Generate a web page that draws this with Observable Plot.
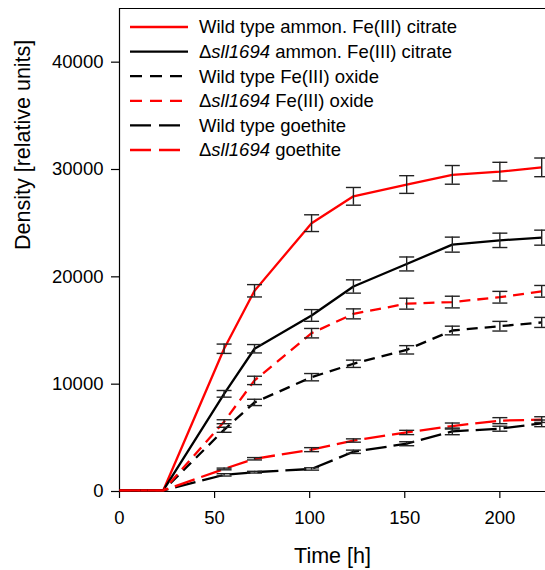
<!DOCTYPE html>
<html>
<head>
<meta charset="utf-8">
<script src="https://cdn.jsdelivr.net/npm/d3@7"></script>
<script src="https://cdn.jsdelivr.net/npm/@observablehq/plot@0.6"></script>
<style>
  body { margin: 0; background: #fff; }
  svg { display: block; }
</style>
</head>
<body>
<div id="chart"></div>
<script>
// ---- data ----
const times = [0, 23, 55, 71, 101, 123, 151, 175, 200, 222];

const seriesNames = [
  "Wild type ammon. Fe(III) citrate",
  "Δsll1694 ammon. Fe(III) citrate",
  "Wild type Fe(III) oxide",
  "Δsll1694 Fe(III) oxide",
  "Wild type goethite",
  "Δsll1694 goethite"
];

const wtCitrate   = [100, 100, 13300, 18700, 25000, 27500, 28600, 29500, 29800, 30200];
const dCitrate    = [100, 100, 9100, 13300, 16400, 19100, 21200, 23000, 23400, 23650];
const wtOxide     = [100, 100, 5750, 8300, 10650, 11900, 13200, 15000, 15400, 15750];
const dOxide      = [100, 100, 6500, 10350, 14750, 16550, 17500, 17650, 18100, 18650];
const wtGoethite  = [100, 100, 1550, 1800, 2100, 3700, 4450, 5600, 5850, 6350];
const dGoethite   = [100, 100, 2100, 3050, 3900, 4750, 5500, 6100, 6600, 6700];

const wtCitrateErr  = [0, 0, 435, 575, 780, 825, 825, 870, 870, 870];
const dCitrateErr   = [0, 0, 310, 390, 545, 620, 650, 700, 670, 700];
const wtOxideErr    = [0, 0, 233, 295, 340, 340, 390, 405, 450, 465];
const dOxideErr     = [0, 0, 185, 390, 440, 465, 510, 545, 545, 545];
const wtGoethiteErr = [0, 0, 110, 80, 110, 155, 186, 310, 233, 310];
const dGoethiteErr  = [0, 0, 80, 110, 186, 155, 200, 280, 280, 265];

const xTicks = [0, 50, 100, 150, 200];
const yTicks = [0, 10000, 20000, 30000, 40000];

// ---- styles ----
const values = [wtCitrate, dCitrate, wtOxide, dOxide, wtGoethite, dGoethite];
const errors = [wtCitrateErr, dCitrateErr, wtOxideErr, dOxideErr, wtGoethiteErr, dGoethiteErr];
const colors = ["#ff0000", "#000000", "#000000", "#ff0000", "#000000", "#ff0000"];
const dashes = ["none", "none", "11,7", "11,7", "21,7", "21,7"];
const legendDashes = ["none", "none", "12,8", "12,8", "21,8", "21,8"];

const table = [];
seriesNames.forEach((name, i) => {
  times.forEach((t, j) => {
    table.push({series: name, idx: i, t, v: values[i][j], e: errors[i][j]});
  });
});
const errTable = table.filter(d => d.e > 0);

const capSymbol = {
  draw(ctx) { ctx.moveTo(-7.5, 0); ctx.lineTo(7.5, 0); }
};

const font = "'Liberation Sans', Arial, sans-serif";

const lineMarks = seriesNames.map((name, i) =>
  Plot.line(table.filter(d => d.idx === i), {
    x: "t", y: "v",
    stroke: colors[i], strokeWidth: 2.3,
    strokeDasharray: dashes[i], strokeLinecap: "butt", strokeLinejoin: "miter"
  })
);

const plot = Plot.plot({
  width: 545,
  height: 570,
  marginLeft: 119,
  marginRight: 0,
  marginTop: 8,
  marginBottom: 79,
  style: {fontFamily: font, fontSize: "18.5px", color: "#000", background: "#fff", overflow: "visible"},
  x: {domain: [0, 224], range: [119, 545]},
  y: {domain: [0, 45000]},
  marks: [
    Plot.axisX({ticks: xTicks, tickSize: 7, tickPadding: 12, fontSize: 18.5, label: null, tickFormat: d3.format("d"), strokeWidth: 1.2}),
    Plot.axisY({ticks: yTicks, tickSize: 8, tickPadding: 8, fontSize: 18.5, label: null, tickFormat: d3.format("d"), strokeWidth: 1.2}),
    Plot.ruleY([0], {stroke: "#000", strokeWidth: 1.2}),
    Plot.ruleX([0], {stroke: "#000", strokeWidth: 1.2}),
    Plot.ruleY([45000], {stroke: "#000", strokeWidth: 1.2}),
    ...lineMarks,
    Plot.ruleX(errTable, {x: "t", y1: d => d.v - d.e, y2: d => d.v + d.e, stroke: "#222", strokeWidth: 1.4}),
    Plot.dot(errTable, {x: "t", y: d => d.v + d.e, symbol: capSymbol, r: 5, fill: "none", stroke: "#222", strokeWidth: 1.4}),
    Plot.dot(errTable, {x: "t", y: d => d.v - d.e, symbol: capSymbol, r: 5, fill: "none", stroke: "#222", strokeWidth: 1.4}),
    Plot.text(["Time [h]"], {text: d => d, frameAnchor: "bottom", dy: 71, fontSize: 21.5, fill: "#000"}),
    Plot.text(["Density [relative units]"], {text: d => d, frameAnchor: "left", dx: -96, rotate: -90, fontSize: 21.5, fill: "#000"})
  ]
});

// ---- legend ----
const svg = d3.select(plot);
const lg = svg.append("g")
  .attr("font-family", font)
  .attr("font-size", 18.5)
  .attr("text-anchor", "start");
seriesNames.forEach((name, i) => {
  const y = 27 + i * 24.6;
  lg.append("line")
    .attr("x1", 130).attr("x2", 188).attr("y1", y).attr("y2", y)
    .attr("stroke", colors[i]).attr("stroke-width", 2.3)
    .attr("stroke-dasharray", legendDashes[i]);
  const t = lg.append("text")
    .attr("x", 199).attr("y", y).attr("dy", "0.35em")
    .attr("fill", "#000").attr("text-anchor", "start");
  if (name.startsWith("Δsll1694")) {
    t.append("tspan").text("Δ");
    t.append("tspan").attr("font-style", "italic").text("sll1694");
    t.append("tspan").text(name.slice("Δsll1694".length));
  } else {
    t.text(name);
  }
});

document.getElementById("chart").appendChild(plot);
</script>
</body>
</html>
